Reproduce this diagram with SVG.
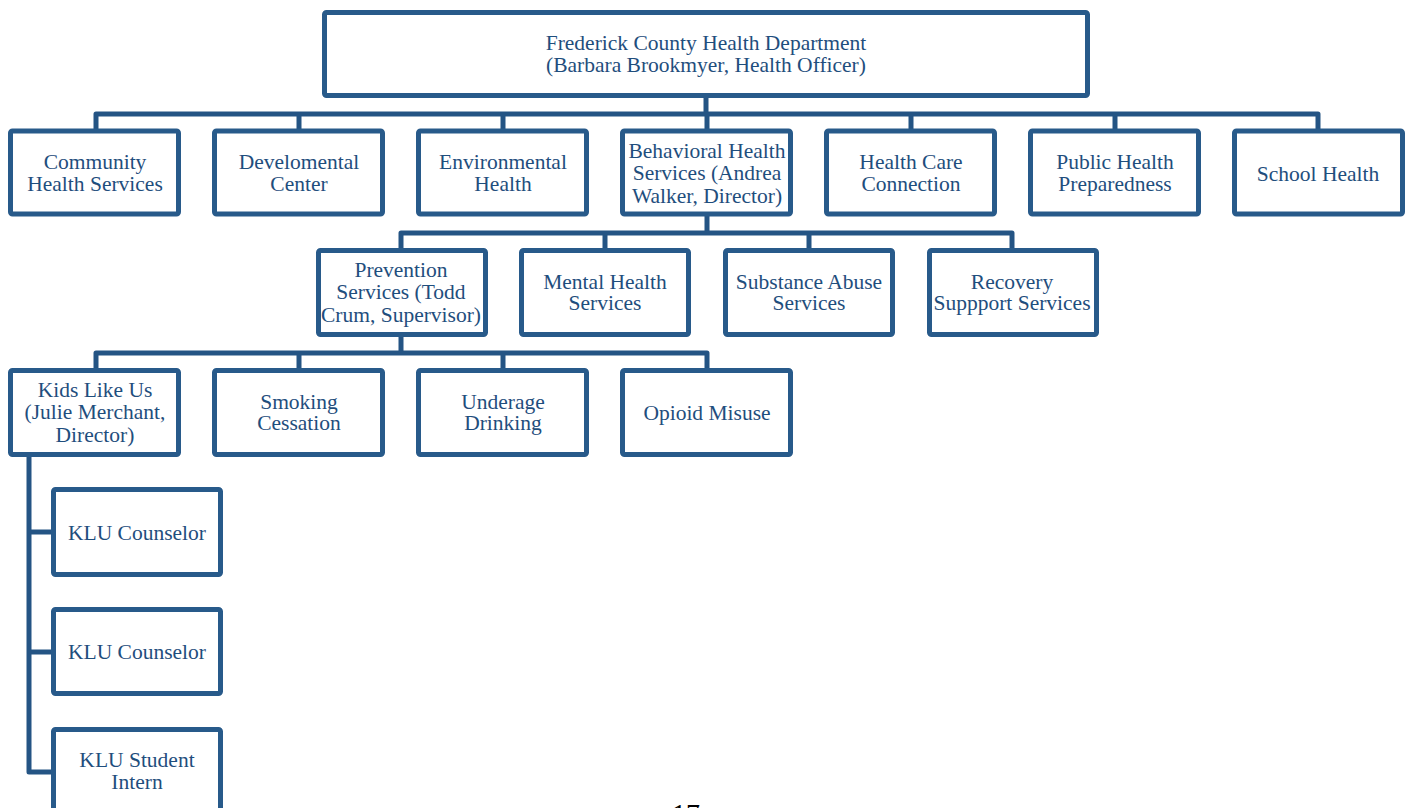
<svg xmlns="http://www.w3.org/2000/svg" width="1410" height="808" viewBox="0 0 1410 808">
  <style>
    .box { fill: #ffffff; stroke: #285a8a; stroke-width: 5; }
    .link { fill: none; stroke: #245484; stroke-width: 5; stroke-linejoin: round; stroke-linecap: butt; }
    .lbl { font-family: "Liberation Serif", "DejaVu Serif", serif; font-size: 21.5px; fill: #1f4e7d; text-anchor: middle; }
    .page { font-family: "Liberation Serif", serif; font-size: 28px; fill: #000000; text-anchor: middle; }
  </style>

  <!-- connectors -->
  <g id="connectors">
    <path class="link" d="M706 97 V114 M96 129 V114 H1318 V129 M299 114 V129 M503 114 V129 M707 114 V129 M911 114 V129 M1115 114 V129"/>
    <path class="link" d="M707 216 V233 M401 248 V233 H1012 V248 M605 233 V248 M809 233 V248"/>
    <path class="link" d="M401 336 V353 M96 368 V353 H707 V368 M299 353 V368 M503 353 V368"/>
    <path class="link" d="M29 456 V772 H51 M29 532 H51 M29 652 H51"/>
  </g>

  <!-- root -->
  <g id="n-fchd">
    <rect class="box" x="324.5" y="12.5" width="763" height="83" rx="2"/>
    <text class="lbl" x="706" y="50">Frederick County Health Department</text>
    <text class="lbl" x="706" y="72">(Barbara Brookmyer, Health Officer)</text>
  </g>

  <!-- divisions -->
  <g id="n-community">
    <rect class="box" x="10.5" y="131" width="168" height="83" rx="2"/>
    <text class="lbl" x="95" y="169">Community</text>
    <text class="lbl" x="95" y="191">Health Services</text>
  </g>
  <g id="n-developmental">
    <rect class="box" x="214.5" y="131" width="168" height="83" rx="2"/>
    <text class="lbl" x="299" y="169">Develomental</text>
    <text class="lbl" x="299" y="191">Center</text>
  </g>
  <g id="n-environmental">
    <rect class="box" x="418.5" y="131" width="168" height="83" rx="2"/>
    <text class="lbl" x="503" y="169">Environmental</text>
    <text class="lbl" x="503" y="191">Health</text>
  </g>
  <g id="n-behavioral">
    <rect class="box" x="622.5" y="131" width="168" height="83" rx="2"/>
    <text class="lbl" x="707" y="158">Behavioral Health</text>
    <text class="lbl" x="707" y="180">Services (Andrea</text>
    <text class="lbl" x="707" y="203">Walker, Director)</text>
  </g>
  <g id="n-hcc">
    <rect class="box" x="826.5" y="131" width="168" height="83" rx="2"/>
    <text class="lbl" x="911" y="169">Health Care</text>
    <text class="lbl" x="911" y="191">Connection</text>
  </g>
  <g id="n-php">
    <rect class="box" x="1030.5" y="131" width="168" height="83" rx="2"/>
    <text class="lbl" x="1115" y="169">Public Health</text>
    <text class="lbl" x="1115" y="191">Preparedness</text>
  </g>
  <g id="n-school">
    <rect class="box" x="1234.5" y="131" width="168" height="83" rx="2"/>
    <text class="lbl" x="1318" y="181">School Health</text>
  </g>

  <!-- behavioral health units -->
  <g id="n-prevention">
    <rect class="box" x="318.5" y="250.5" width="167" height="84" rx="2"/>
    <text class="lbl" x="401" y="277">Prevention</text>
    <text class="lbl" x="401" y="299">Services (Todd</text>
    <text class="lbl" x="401" y="322">Crum, Supervisor)</text>
  </g>
  <g id="n-mental">
    <rect class="box" x="521.5" y="250.5" width="167" height="84" rx="2"/>
    <text class="lbl" x="605" y="289">Mental Health</text>
    <text class="lbl" x="605" y="310">Services</text>
  </g>
  <g id="n-substance">
    <rect class="box" x="725.5" y="250.5" width="167" height="84" rx="2"/>
    <text class="lbl" x="809" y="289">Substance Abuse</text>
    <text class="lbl" x="809" y="310">Services</text>
  </g>
  <g id="n-recovery">
    <rect class="box" x="929.5" y="250.5" width="167" height="84" rx="2"/>
    <text class="lbl" x="1012" y="289">Recovery</text>
    <text class="lbl" x="1012" y="310">Suppport Services</text>
  </g>

  <!-- prevention programs -->
  <g id="n-klu">
    <rect class="box" x="10.5" y="370.5" width="168" height="84" rx="2"/>
    <text class="lbl" x="95" y="397">Kids Like Us</text>
    <text class="lbl" x="95" y="419">(Julie Merchant,</text>
    <text class="lbl" x="95" y="442">Director)</text>
  </g>
  <g id="n-smoking">
    <rect class="box" x="214.5" y="370.5" width="168" height="84" rx="2"/>
    <text class="lbl" x="299" y="409">Smoking</text>
    <text class="lbl" x="299" y="430">Cessation</text>
  </g>
  <g id="n-underage">
    <rect class="box" x="418.5" y="370.5" width="168" height="84" rx="2"/>
    <text class="lbl" x="503" y="409">Underage</text>
    <text class="lbl" x="503" y="430">Drinking</text>
  </g>
  <g id="n-opioid">
    <rect class="box" x="622.5" y="370.5" width="168" height="84" rx="2"/>
    <text class="lbl" x="707" y="420">Opioid Misuse</text>
  </g>

  <!-- KLU staff -->
  <g id="n-klu-counselor-1">
    <rect class="box" x="53.5" y="489.5" width="167" height="85" rx="2"/>
    <text class="lbl" x="137" y="540">KLU Counselor</text>
  </g>
  <g id="n-klu-counselor-2">
    <rect class="box" x="53.5" y="609.5" width="167" height="84" rx="2"/>
    <text class="lbl" x="137" y="659">KLU Counselor</text>
  </g>
  <g id="n-klu-intern">
    <rect class="box" x="53.5" y="729.5" width="167" height="85" rx="2"/>
    <text class="lbl" x="137" y="767">KLU Student</text>
    <text class="lbl" x="137" y="789">Intern</text>
  </g>

  <!-- page number, running off the bottom edge -->
  <text class="page" x="686" y="823">17</text>
</svg>
